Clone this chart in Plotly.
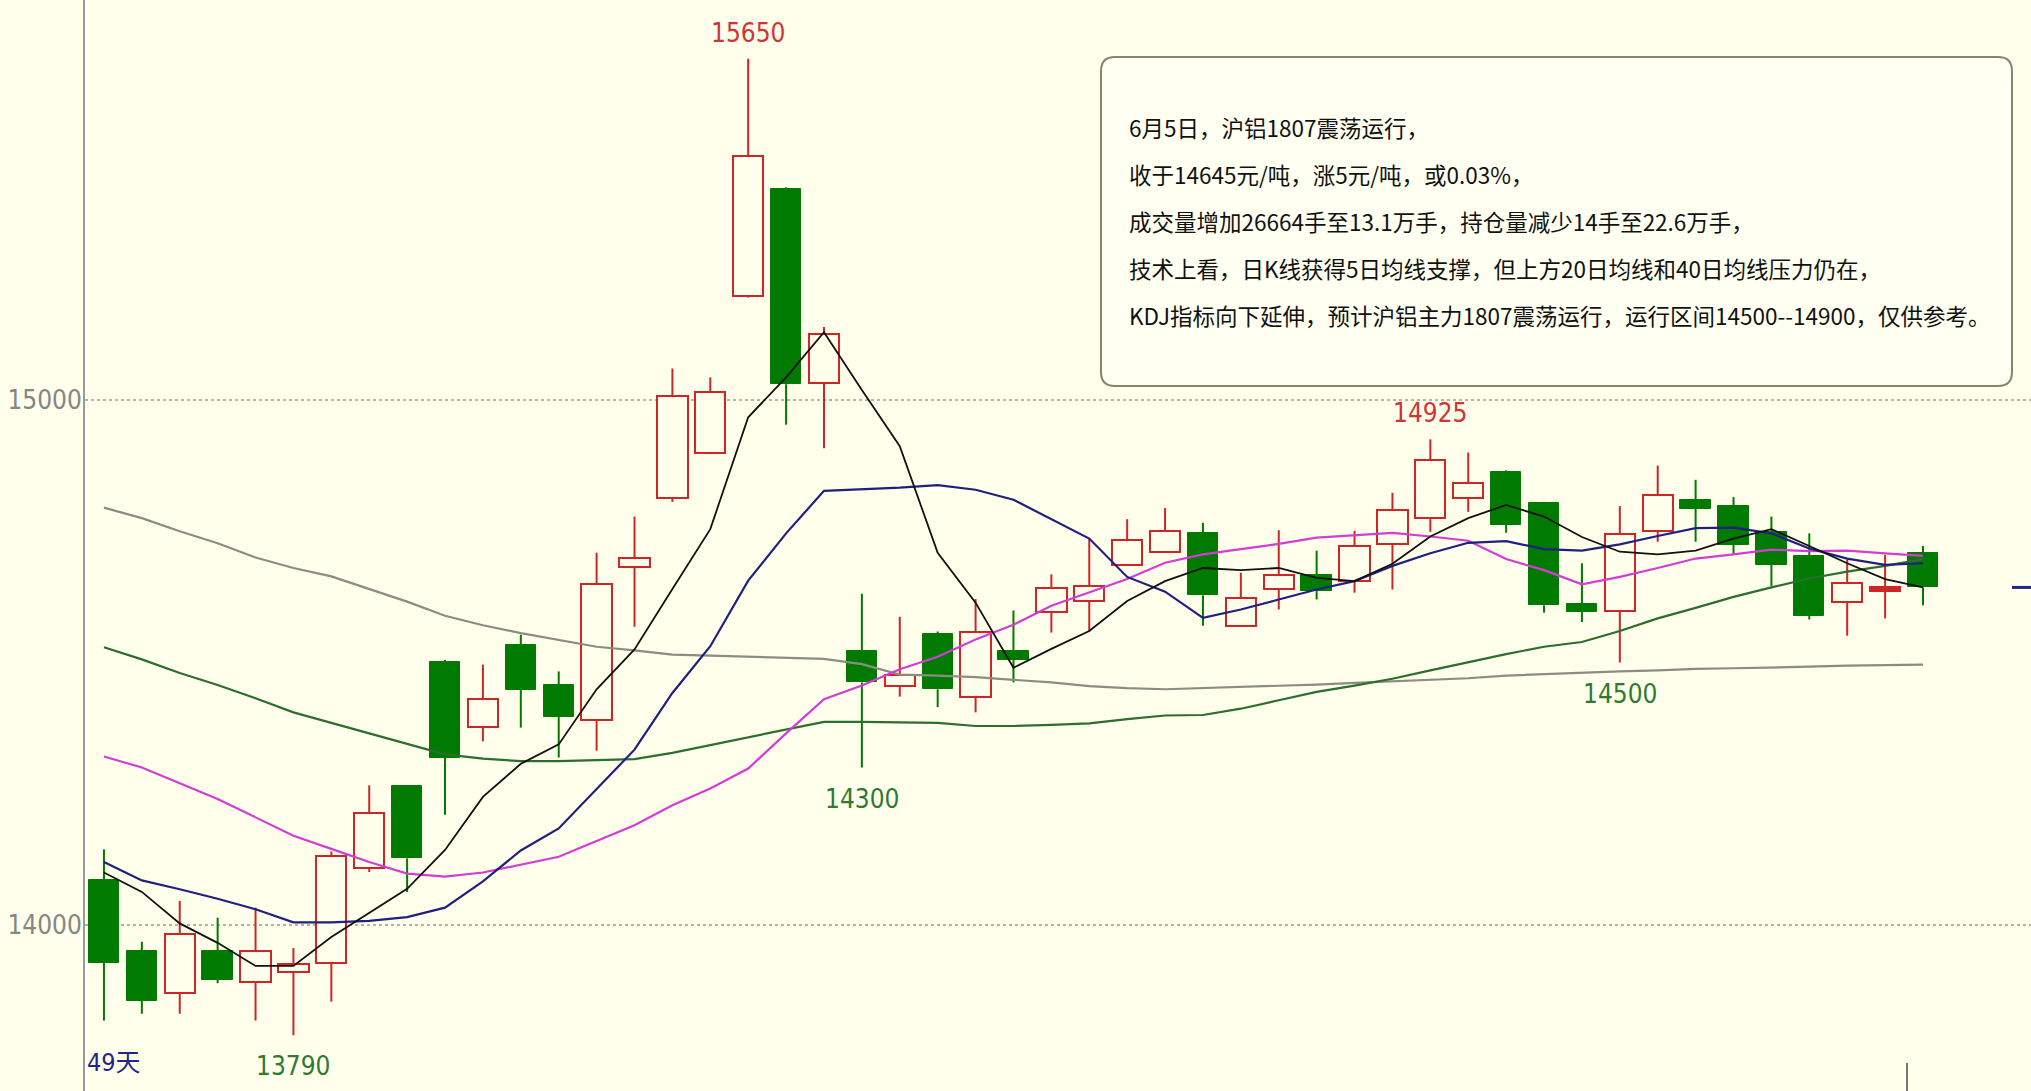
import plotly.graph_objects as go

# ---------------- data ----------------
opens = [14086, 13951, 13871, 13951, 13891, 13910, 13928, 14109, 14264, 14501,
         14378, 14533, 14457, 14390, 14681, 14814, 14899, 15199, 15401, 15032,
         14522, 14455, 14554, 14435, 14522, 14597, 14617, 14686, 14711, 14747,
         14570, 14640, 14667, 14655, 14726, 14776, 14814, 14863, 14803, 14611,
         14598, 14751, 14810, 14798, 14749, 14702, 14616, 14636, 14708]
highs = [14144, 13968, 14046, 14014, 14033, 13956, 14140, 14266, 14266, 14505,
         14496, 14553, 14483, 14709, 14778, 15060, 15043, 15650, 15405, 15139,
         14631, 14587, 14559, 14621, 14599, 14668, 14736, 14773, 14794, 14766,
         14671, 14752, 14713, 14751, 14823, 14925, 14900, 14866, 14806, 14689,
         14798, 14875, 14848, 14815, 14778, 14746, 14696, 14705, 14722]
lows = [13818, 13831, 13831, 13889, 13818, 13790, 13854, 14101, 14063, 14210,
        14350, 14376, 14319, 14332, 14568, 14806, 14897, 15195, 14953, 14908,
        14300, 14435, 14415, 14405, 14462, 14557, 14559, 14684, 14709, 14570,
        14568, 14601, 14620, 14633, 14639, 14749, 14787, 14747, 14595, 14577,
        14500, 14730, 14730, 14707, 14645, 14582, 14551, 14584, 14609]
closes = [13928, 13856, 13982, 13896, 13950, 13925, 14132, 14213, 14127, 14319,
          14430, 14448, 14397, 14649, 14699, 15008, 15015, 15465, 15030, 15125,
          14462, 14477, 14449, 14559, 14505, 14641, 14646, 14733, 14751, 14628,
          14623, 14667, 14636, 14721, 14791, 14885, 14842, 14762, 14609, 14596,
          14745, 14820, 14793, 14724, 14686, 14589, 14652, 14644, 14643]

ma5 = [14100, 14063, 14003, 13966, 13922, 13922, 13977, 14023, 14069, 14143,
       14244, 14307, 14344, 14449, 14525, 14640, 14754, 14967, 15043, 15129,
       15019, 14912, 14709, 14614, 14490, 14526, 14560, 14617, 14655, 14680,
       14676, 14680, 14661, 14655, 14688, 14740, 14775, 14800, 14778, 14739,
       14711, 14706, 14713, 14736, 14754, 14722, 14689, 14659, 14643]
ma10 = [14120, 14085, 14068, 14050, 14030, 14005, 14005, 14008, 14015, 14033,
        14083, 14142, 14184, 14259, 14334, 14442, 14531, 14656, 14746, 14827,
        14830, 14833, 14838, 14829, 14810, 14773, 14736, 14663, 14635, 14585,
        14601, 14620, 14639, 14655, 14684, 14708, 14728, 14731, 14716, 14713,
        14725, 14741, 14756, 14757, 14746, 14717, 14698, 14686, 14689]
ma20 = [14321, 14300, 14270, 14240, 14205, 14170, 14145, 14120, 14098, 14092,
        14100, 14115, 14130, 14160, 14190, 14228, 14260, 14298, 14365, 14430,
        14456, 14487, 14511, 14544, 14572, 14608, 14633, 14659, 14690, 14706,
        14716, 14726, 14738, 14742, 14747, 14740, 14732, 14697, 14676, 14649,
        14663, 14680, 14698, 14706, 14715, 14712, 14713, 14708, 14703]
ma40 = [14529, 14506, 14480, 14457, 14432, 14405, 14385, 14365, 14345, 14325,
        14317, 14312, 14312, 14314, 14316, 14328, 14343, 14358, 14373, 14387,
        14387, 14386, 14385, 14379, 14379, 14381, 14384, 14392, 14399, 14400,
        14412, 14428, 14444, 14456, 14469, 14485, 14501, 14516, 14530, 14539,
        14560, 14584, 14604, 14625, 14643, 14660, 14673, 14684, 14697]
ma60 = [14795, 14775, 14750, 14727, 14700, 14680, 14664, 14640, 14616, 14589,
        14571, 14556, 14543, 14530, 14523, 14515, 14513, 14511, 14509, 14507,
        14497, 14477, 14475, 14472, 14467, 14462, 14455, 14451, 14449, 14451,
        14453, 14455, 14458, 14461, 14464, 14467, 14470, 14475, 14478, 14480,
        14483, 14485, 14488, 14489, 14490, 14492, 14494, 14495, 14496]

y_ticks = [14000, 15000]
high_label_idx = [17, 35]
low_label_idx = [5, 20, 40]
filled_up_idx = [47]
day_label = "49天"
note_lines = [
    "6月5日，沪铝1807震荡运行，",
    "收于14645元/吨，涨5元/吨，或0.03%，",
    "成交量增加26664手至13.1万手，持仓量减少14手至22.6万手，",
    "技术上看，日K线获得5日均线支撑，但上方20日均线和40日均线压力仍在，",
    "KDJ指标向下延伸，预计沪铝主力1807震荡运行，运行区间14500--14900，仅供参考。",
]

# ---------------- styling ----------------
W, H = 2031, 1091
ML = 85
BG = "#FFFFEC"
RED = "#CC2626"
GREEN = "#007A00"
LABEL_RED = "#D03434"
LABEL_GREEN = "#2F7A2F"
NAVY = "#24248A"
NARROW = "Liberation Sans Narrow, DejaVu Sans Condensed, Arial Narrow, Liberation Sans, sans-serif"
CJK = "Noto Sans CJK SC, Noto Sans, sans-serif"

n = len(closes)
xs = list(range(n))
up = [i for i in xs if closes[i] >= opens[i]]
down = [i for i in xs if closes[i] < opens[i]]

fig = go.Figure()


def wicks(idx):
    wx, wy = [], []
    for i in idx:
        top = max(opens[i], closes[i])
        bot = min(opens[i], closes[i])
        wx += [i, i, None, i, i, None]
        wy += [highs[i], top, None, bot, lows[i], None]
    return wx, wy


for idx, col in ((up, RED), (down, GREEN)):
    wx, wy = wicks(idx)
    fig.add_trace(go.Scatter(x=wx, y=wy, mode="lines",
                             line=dict(color=col, width=2),
                             hoverinfo="skip", showlegend=False))

# bodies
fig.add_trace(go.Bar(
    x=up,
    base=[min(opens[i], closes[i]) for i in up],
    y=[max(abs(closes[i] - opens[i]), 4) for i in up],
    width=0.8,
    marker=dict(color=[RED if i in filled_up_idx else BG for i in up],
                line=dict(color=RED, width=2)),
    showlegend=False, hoverinfo="skip"))
fig.add_trace(go.Bar(
    x=down,
    base=[min(opens[i], closes[i]) for i in down],
    y=[max(abs(closes[i] - opens[i]), 4) for i in down],
    width=0.8,
    marker=dict(color=GREEN, line=dict(color=GREEN, width=1)),
    showlegend=False, hoverinfo="skip"))

# moving averages (drawn above candles)
for vals, col, w in ((ma60, "#8C8C84", 2.2), (ma40, "#2C6E2C", 2.2),
                     (ma20, "#D43CD4", 2.2), (ma10, "#202080", 2.2),
                     (ma5, "#111111", 1.8)):
    fig.add_trace(go.Scatter(x=xs, y=vals, mode="lines",
                             line=dict(color=col, width=w),
                             hoverinfo="skip", showlegend=False))

# extreme labels
for i in high_label_idx:
    fig.add_annotation(x=i, y=highs[i], text=str(highs[i]), showarrow=False,
                       yanchor="bottom", yshift=9,
                       font=dict(family=NARROW, size=26, color=LABEL_RED))
for i in low_label_idx:
    fig.add_annotation(x=i, y=lows[i], text=str(lows[i]), showarrow=False,
                       yanchor="top", yshift=-14,
                       font=dict(family=NARROW, size=26, color=LABEL_GREEN))

fig.add_annotation(xref="paper", yref="paper", x=0.0, y=1 - 1062 / H,
                   text=day_label, showarrow=False, xanchor="left", yanchor="middle",
                   font=dict(family=NARROW + ", " + CJK, size=25, color=NAVY))

# comment box
pw = W - ML
x0, x1 = (1101 - ML) / pw, (2012 - ML) / pw
y0, y1 = 1 - 57 / H, 1 - 386 / H
rx, ry = 14 / pw, 14 / H
path = (f"M {x0+rx},{y0} L {x1-rx},{y0} Q {x1},{y0} {x1},{y0-ry} "
        f"L {x1},{y1+ry} Q {x1},{y1} {x1-rx},{y1} L {x0+rx},{y1} "
        f"Q {x0},{y1} {x0},{y1+ry} L {x0},{y0-ry} Q {x0},{y0} {x0+rx},{y0} Z")
fig.add_shape(type="path", path=path, xref="paper", yref="paper",
              line=dict(color="#86846C", width=2), fillcolor="#FFFFF2", layer="above")
for k, line in enumerate(note_lines):
    fig.add_annotation(xref="paper", yref="paper", x=(1127 - ML) / pw,
                       y=1 - (127 + 47 * k) / H, text=line, showarrow=False,
                       xanchor="left", yanchor="middle",
                       font=dict(family=CJK, size=22.5, color="#111111"))

# right-edge current price marker and bottom tick
fig.add_shape(type="line", xref="paper", yref="y", x0=(2012 - ML) / pw, x1=1.0,
              y0=closes[-1], y1=closes[-1], line=dict(color=NAVY, width=3))
fig.add_shape(type="line", xref="paper", yref="paper", x0=(1907 - ML) / pw,
              x1=(1907 - ML) / pw, y0=0, y1=28 / H, line=dict(color="#777777", width=2))

y_top = 15000 + 400 / 0.525
y_bot = 15000 - (H - 400) / 0.525

fig.update_layout(
    width=W, height=H,
    margin=dict(l=ML, r=0, t=0, b=0, autoexpand=False),
    paper_bgcolor=BG, plot_bgcolor=BG,
    barmode="overlay", bargap=0,
    showlegend=False,
    xaxis=dict(range=[-0.5, 50.85], visible=False, fixedrange=True, automargin=False),
    yaxis=dict(range=[y_bot, y_top], tickvals=y_ticks,
               ticktext=[str(v) for v in y_ticks], automargin=False,
               showgrid=True, gridcolor="#B4B4A8", griddash="dot", gridwidth=1.5,
               zeroline=False, showline=True, linecolor="#9A9A9A", linewidth=2,
               ticks="", ticklabelstandoff=-4,
               tickfont=dict(family=NARROW, size=26, color="#858585"),
               fixedrange=True),
)

fig.write_html("out.html", config={"displayModeBar": False},
               post_script="document.body.style.margin='0px';document.body.style.overflow='hidden';")
